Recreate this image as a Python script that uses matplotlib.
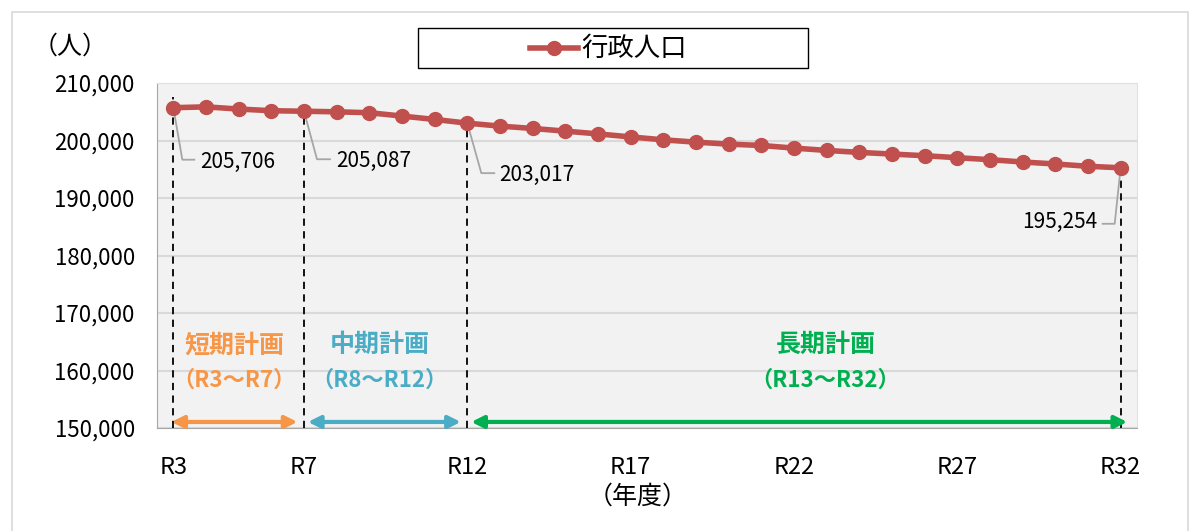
import matplotlib
matplotlib.use("Agg")
import matplotlib.pyplot as plt
from matplotlib.patches import Rectangle
from matplotlib.lines import Line2D

plt.rcParams['font.family'] = ['Noto Sans CJK JP', 'DejaVu Sans']

# 行政人口の推計 (R3 ~ R32)
years = [f"R{n}" for n in range(3, 33)]
population = [205706, 205850, 205470, 205180, 205087,
              204990, 204830, 204250, 203660, 203017,
              202500, 202095, 201630, 201150, 200620,
              200115, 199712, 199367, 199137, 198677,
              198275, 197930, 197642, 197355, 197010,
              196665, 196262, 195917, 195515, 195254]
tick_years = ["R3", "R7", "R12", "R17", "R22", "R27", "R32"]
marked_years = ["R3", "R7", "R12", "R32"]

plan_names = ["短期計画", "中期計画", "長期計画"]
plan_spans = ["（R3～R7）", "（R8～R12）", "（R13～R32）"]
plan_bounds = [("R3", "R7"), ("R7", "R12"), ("R12", "R32")]
plan_colors = ["#F79646", "#4BACC6", "#00B050"]

W, H = 1200, 531
fig = plt.figure(figsize=(W / 100, H / 100), dpi=100)


def fx(px):
    return px / W


def fy(py):
    return 1 - py / H


# outer frame
fig.add_artist(Rectangle((fx(12), fy(560)), fx(1176), 560 / H - 12 / H,
                         transform=fig.transFigure, fill=False,
                         edgecolor="#D9D9D9", linewidth=1.2))

ax = fig.add_axes([fx(157), fy(428), fx(980), (428 - 83) / H])
ax.set_facecolor("#F2F2F2")
x = list(range(len(years)))
ax.set_xlim(-0.5, len(years) - 0.5)
ax.set_ylim(150000, 210000)
ax.set_yticks(range(150000, 210001, 10000))
ax.set_yticklabels([f"{v:,}" for v in range(150000, 210001, 10000)], fontsize=16)
ax.set_xticks([years.index(t) for t in tick_years])
ax.set_xticklabels(tick_years, fontsize=17)
ax.tick_params(length=0)
ax.tick_params(axis="x", pad=20)
ax.tick_params(axis="y", pad=16)
ax.grid(axis="y", color="#D9D9D9", linewidth=1.5)
ax.set_axisbelow(True)
for side in ["top", "right"]:
    ax.spines[side].set_color("#E0E0E0")
for side in ["left", "bottom"]:
    ax.spines[side].set_color("#A6A6A6")

ax.plot(x, population, color="#C0504D", linewidth=4, marker="o",
        markersize=10, zorder=4)

# dashed separators at plan boundaries
for y in marked_years:
    i = years.index(y)
    top = 207500 if i == 0 else population[i]
    ax.plot([i, i], [150000, top], color="black", linestyle=(0, (4, 3)),
            linewidth=1.3, zorder=3)


def to_data(i, v, dx, dy):
    disp = ax.transData.transform((i, v))
    return ax.transData.inverted().transform((disp[0] + dx, disp[1] - dy))


def value_label(year, path, text_off, ha):
    i = years.index(year)
    v = population[i]
    pts = [to_data(i, v, dx, dy) for dx, dy in path]
    ax.plot([p[0] for p in pts], [p[1] for p in pts], color="#A6A6A6",
            linewidth=1.3, zorder=3, clip_on=False)
    tx, ty = to_data(i, v, *text_off)
    ax.text(tx, ty, f"{v:,}", fontsize=15, ha=ha, va="center", zorder=5)


value_label("R3", [(0, 0), (9, 52), (21, 52)], (27, 54), "left")
value_label("R7", [(0, 0), (13, 48), (26, 48)], (32, 50), "left")
value_label("R12", [(0, 0), (14, 50), (27, 50)], (32, 52), "left")
value_label("R32", [(0, 0), (-6, 56), (-18, 56)], (-23, 54), "right")

# plan period arrows and captions
arrow_y = 151050
caption_shift = [0.0, -0.15, 0.8]
for k in range(len(plan_names)):
    i0 = years.index(plan_bounds[k][0])
    i1 = years.index(plan_bounds[k][1])
    a0 = i0 - 0.06 if k == 0 else i0 + 0.12
    a1 = i1 + 0.2 if k == len(plan_names) - 1 else i1 - 0.2
    ax.annotate("", xy=(a0, arrow_y), xytext=(a1, arrow_y),
                arrowprops=dict(arrowstyle="<|-|>", color=plan_colors[k],
                                lw=3, mutation_scale=18,
                                shrinkA=0, shrinkB=0))
    cx = (a0 + a1) / 2 + caption_shift[k]
    ax.text(cx, 164400, plan_names[k], color=plan_colors[k], fontsize=18,
            fontweight="bold", ha="center", va="center")
    ax.text(cx, 158300, plan_spans[k], color=plan_colors[k], fontsize=16,
            fontweight="bold", ha="center", va="center")

# legend box
fig.add_artist(Rectangle((fx(418), fy(68)), fx(390), 40 / H,
                         transform=fig.transFigure, fill=False,
                         edgecolor="black", linewidth=1))
fig.add_artist(Line2D([fx(530), fx(578)], [fy(48), fy(48)],
                      transform=fig.transFigure, color="#C0504D",
                      linewidth=4, zorder=5))
fig.add_artist(Line2D([fx(554)], [fy(48)], transform=fig.transFigure,
                      color="#C0504D", marker="o", markersize=10, zorder=6))
fig.text(fx(581), fy(48), "行政人口", fontsize=19, ha="left", va="center")

fig.text(fx(70), fy(47), "（人）", fontsize=18, ha="center", va="center")
fig.text(fx(638), fy(497), "（年度）", fontsize=18, ha="center", va="center")

fig.savefig("out.png", dpi=100)
